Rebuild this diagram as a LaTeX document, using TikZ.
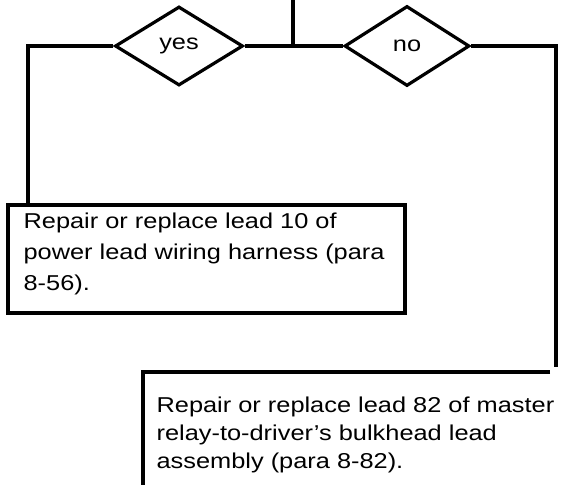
\documentclass[tikz,border=0pt]{standalone}
\usepackage{fontspec}
\setmainfont[FakeStretch=1.18]{Liberation Sans}
\usetikzlibrary{shapes.geometric}
\begin{document}
\begin{tikzpicture}[x=1pt,y=-1pt,line width=3.2pt,
  dia/.style={draw, diamond, inner sep=0pt, minimum width=128pt, minimum height=79pt, font=\fontsize{21.5}{25}\selectfont},
  frame/.style={draw, rectangle, inner sep=0pt},
  txt/.style={anchor=base west, align=left, inner sep=0pt, font=\fontsize{21.5}{31}\selectfont},
  txtb/.style={anchor=base west, align=left, inner sep=0pt, font=\fontsize{21.5}{28}\selectfont}]
\useasboundingbox (0,0) rectangle (570,485);
\node[dia] (yes) at (179,46) {yes};
\node[dia, minimum width=125pt, minimum height=80pt] (no) at (407,46) {no};
\node[frame, minimum width=397pt, minimum height=108pt] (b1) at (206.5,259) {};
\node[txt] (t1) at (22,290) {Repair or replace lead 10 of\\power lead wiring harness (para\\8-56).};
\node[txtb] (t2) at (155,468) {Repair or replace lead 82 of master\\relay-to-driver’s bulkhead lead\\assembly (para 8-82).};
\coordinate (top) at (293,0);
\coordinate (lc) at (28,46);
\coordinate (rc) at (556,46);
\coordinate (rend) at (556,367);
\coordinate (b2tl) at (143,372);
\coordinate (b2tr) at (550,372);
\coordinate (b2bl) at (143,485);
\draw (top) -- (top |- yes.east);
\draw (yes.east) -- (no.west);
\draw (yes.west) -- (lc) -- (lc |- b1.north);
\draw (no.east) -- (rc) -- (rend);
\draw (b2tr) -- (b2tl) -- (b2bl);
\end{tikzpicture}
\end{document}
